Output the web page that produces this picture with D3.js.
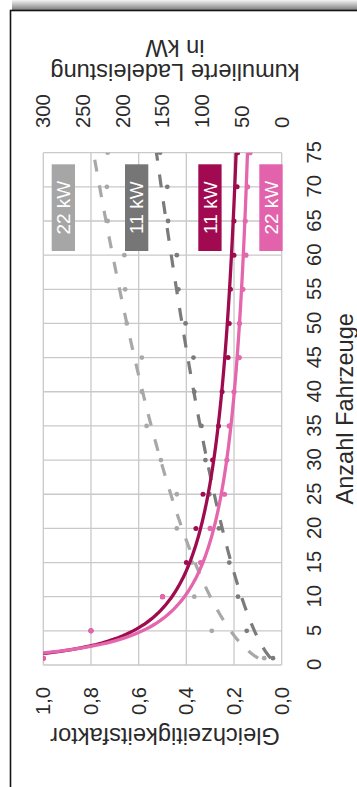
<!DOCTYPE html>
<html>
<head>
<meta charset="utf-8">
<script src="https://cdn.jsdelivr.net/npm/d3@7"></script>
<style>
  html, body { margin: 0; padding: 0; background: #fff; }
  svg { display: block; font-family: "Liberation Sans", Arial, sans-serif; }
</style>
</head>
<body>
<svg id="chart" width="357" height="787"></svg>
<script>
// Number of vehicles at which the simultaneity was evaluated
const vehicles = [1, 5, 10, 15, 20, 25, 30, 35, 40, 45, 50, 55, 60, 65, 70, 75];

// Simultaneity factor (Gleichzeitigkeitsfaktor) per charging power
const factor11 = [1.0, 0.80, 0.50, 0.40, 0.36, 0.33, 0.29, 0.265, 0.25, 0.225, 0.22, 0.215, 0.20, 0.20, 0.187, 0.185];
const factor22 = [1.0, 0.80, 0.50, 0.34, 0.30, 0.24, 0.23, 0.22, 0.20, 0.178, 0.177, 0.163, 0.15, 0.153, 0.143, 0.133];

// Cumulative charging power in kW per charging power
const power11 = [11, 44, 55, 66, 79, 91, 96, 101, 110, 111, 121, 130, 132, 143, 144, 153];
const power22 = [22, 88, 110, 113, 132, 132, 152, 170, 176, 176, 195, 197, 198, 219, 220, 219];

// Axis ticks
const vehicleTicks = [0, 5, 10, 15, 20, 25, 30, 35, 40, 45, 50, 55, 60, 65, 70, 75];
const factorTicks = [0, 0.2, 0.4, 0.6, 0.8, 1.0];
const powerTicks = [0, 50, 100, 150, 200, 250, 300];

// Legend entries (label per box)
const legendLabels = ["22 kW", "11 kW", "11 kW", "22 kW"];

const colors = {
  f11: "#9e0b4f",
  f22: "#e466ad",
  p11: "#7b7b7b",
  p22: "#a8a8a8",
  grid: "#c9c9c9",
  text: "#2a2a2a"
};

const svg = d3.select("#chart");
const defs = svg.append("defs");

// ---- page frame with a soft shadow on top
const shade = defs.append("linearGradient").attr("id", "shade")
  .attr("x1", 0).attr("y1", 0).attr("x2", 0).attr("y2", 1);
shade.append("stop").attr("offset", 0).attr("stop-color", "#f4f4f4");
shade.append("stop").attr("offset", 1).attr("stop-color", "#7e7e7e");
svg.append("rect").attr("x", 12).attr("y", 0).attr("width", 345).attr("height", 10)
  .attr("fill", "url(#shade)");
svg.append("rect").attr("x", 10.5).attr("y", 10.5).attr("width", 400).attr("height", 800)
  .attr("fill", "none").attr("stroke", "#141414").attr("stroke-width", 1.6);

// ---- chart drawn in its own frame, turned a quarter left
const W = 512.3, H = 238.4;
const g = svg.append("g").attr("transform", "translate(43.3,665) rotate(-90)");

const x = d3.scaleLinear().domain([0, 75]).range([0, W]);
const yF = d3.scaleLinear().domain([0, 1]).range([H, 0]);
const yP = d3.scaleLinear().domain([0, 300]).range([H, 0]);

const de = d3.formatLocale({ decimal: ",", thousands: ".", grouping: [3], currency: ["", " €"] });
const fmtFactor = de.format(".1f");

// gridlines
g.append("g").selectAll("line").data(vehicleTicks).join("line")
  .attr("x1", d => x(d)).attr("x2", d => x(d)).attr("y1", 0).attr("y2", H)
  .attr("stroke", colors.grid).attr("stroke-width", 1.3);
g.append("g").selectAll("line").data(factorTicks).join("line")
  .attr("x1", 0).attr("x2", W).attr("y1", d => yF(d)).attr("y2", d => yF(d))
  .attr("stroke", colors.grid).attr("stroke-width", 1.3);

// axes
function styleAxis(sel, size) {
  sel.select(".domain").remove();
  sel.attr("font-size", size).attr("font-family", "Liberation Sans, Arial, sans-serif")
    .attr("color", colors.text);
}
g.append("g").attr("transform", `translate(0,${H})`)
  .call(d3.axisBottom(x).tickValues(vehicleTicks).tickSize(0).tickPadding(24.5))
  .call(s => styleAxis(s, 20.2));
g.append("g")
  .call(d3.axisLeft(yF).tickValues(factorTicks).tickSize(0).tickPadding(22).tickFormat(fmtFactor))
  .call(s => styleAxis(s, 20.2));
g.append("g").attr("transform", `translate(${W},0)`)
  .call(d3.axisRight(yP).tickValues(powerTicks).tickSize(0).tickPadding(24.7))
  .call(s => styleAxis(s, 20.2));

// axis titles
g.append("text").attr("x", W / 2).attr("y", 309.5).attr("text-anchor", "middle")
  .attr("font-size", 23.6).attr("fill", colors.text).text("Anzahl Fahrzeuge");
g.append("text").attr("transform", "translate(-63,121.7) rotate(-90)")
  .attr("text-anchor", "middle").attr("font-size", 23.6).attr("fill", colors.text)
  .text("Gleichzeitigkeitsfaktor");
const pt = g.append("text").attr("transform", "translate(601,131.7) rotate(-90)")
  .attr("text-anchor", "middle").attr("font-size", 23.6).attr("fill", colors.text);
pt.append("tspan").attr("x", 0).attr("dy", 0).text("kumulierte Ladeleistung");
pt.append("tspan").attr("x", 0).attr("dy", 24).text("in kW");

// ---- power trendlines (least squares in log-log space)
function powerFit(xs, ys) {
  const lx = xs.map(Math.log), ly = ys.map(Math.log);
  const mx = d3.mean(lx), my = d3.mean(ly);
  const b = d3.sum(lx, (v, i) => (v - mx) * (ly[i] - my)) / d3.sum(lx, v => (v - mx) * (v - mx));
  const a = Math.exp(my - b * mx);
  return n => a * Math.pow(n, b);
}
const trendN = d3.range(1, 75.001, 0.25);

defs.append("clipPath").attr("id", "plotClip")
  .append("rect").attr("x", 0).attr("y", 0).attr("width", W).attr("height", H);
const plot = g.append("g").attr("clip-path", "url(#plotClip)");

const lineP = d3.line().x(d => x(d[0])).y(d => yP(d[1]));
const lineF = d3.line().x(d => x(d[0])).y(d => yF(d[1]));

const fitP22 = powerFit(vehicles, power22);
const fitP11 = powerFit(vehicles, power11);
const fitF11 = powerFit(vehicles, factor11);
const fitF22 = powerFit(vehicles, factor22);

plot.append("path").datum(trendN.map(n => [n, fitP22(n)]))
  .attr("d", lineP).attr("fill", "none").attr("stroke", colors.p22)
  .attr("stroke-width", 3.2).attr("stroke-dasharray", "12,14");
plot.append("path").datum(trendN.map(n => [n, fitP11(n)]))
  .attr("d", lineP).attr("fill", "none").attr("stroke", colors.p11)
  .attr("stroke-width", 3.2).attr("stroke-dasharray", "13,14");

plot.append("g").selectAll("circle").data(vehicles.map((n, i) => [n, power22[i]])).join("circle")
  .attr("cx", d => x(d[0])).attr("cy", d => yP(d[1])).attr("r", 2.4).attr("fill", colors.p22);
plot.append("g").selectAll("circle").data(vehicles.map((n, i) => [n, power11[i]])).join("circle")
  .attr("cx", d => x(d[0])).attr("cy", d => yP(d[1])).attr("r", 2.4).attr("fill", colors.p11);

plot.append("path").datum(trendN.map(n => [n, fitF11(n)]))
  .attr("d", lineF).attr("fill", "none").attr("stroke", colors.f11).attr("stroke-width", 3.3);
plot.append("path").datum(trendN.map(n => [n, fitF22(n)]))
  .attr("d", lineF).attr("fill", "none").attr("stroke", colors.f22).attr("stroke-width", 3.3);

plot.append("g").selectAll("circle").data(vehicles.map((n, i) => [n, factor11[i]])).join("circle")
  .attr("cx", d => x(d[0])).attr("cy", d => yF(d[1])).attr("r", 2.5).attr("fill", colors.f11);
plot.append("g").selectAll("circle").data(vehicles.map((n, i) => [n, factor22[i]])).join("circle")
  .attr("cx", d => x(d[0])).attr("cy", d => yF(d[1])).attr("r", 2.6).attr("fill", colors.f22);

// ---- legend boxes beside the far end of each curve
const legendFill = ["#a6a6a6", "#767676", "#a10a50", "#e262ab"];
const boxTop = [8.4, 81.7, 155, 216];
const box = g.append("g").selectAll("g").data(legendLabels).join("g")
  .attr("transform", (d, i) => `translate(414,${boxTop[i]})`);
box.append("rect").attr("width", 86.7).attr("height", 23.3)
  .attr("fill", (d, i) => legendFill[i]);
box.append("text").attr("x", 43.35).attr("y", 11.65).attr("dy", "0.35em")
  .attr("text-anchor", "middle").attr("font-size", 19).attr("fill", "#fff")
  .text(d => d);
</script>
</body>
</html>
